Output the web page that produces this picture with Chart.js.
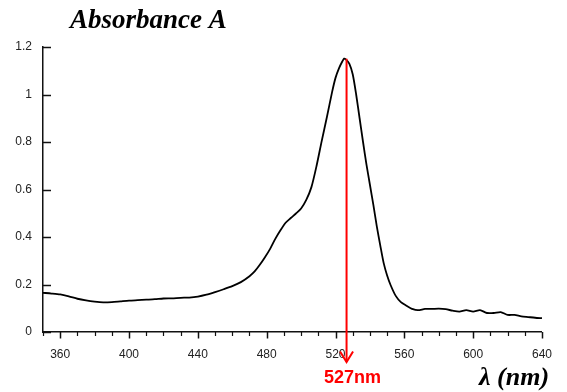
<!DOCTYPE html>
<html>
<head>
<meta charset="utf-8">
<script src="https://cdn.jsdelivr.net/npm/chart.js@4.4.1/dist/chart.umd.min.js"></script>
<style>
  html, body { margin: 0; padding: 0; background: #ffffff; }
  #wrap { position: relative; width: 567px; height: 392px; }
  canvas { display: block; }
</style>
</head>
<body>
<div id="wrap"><canvas id="c" width="567" height="392"></canvas></div>
<script>
// ---- data ----
const wavelengths = [350, 355, 360, 365, 370, 375, 380, 385, 390, 395, 400, 405, 410, 415, 420, 425, 430, 435, 440, 445,
  450, 455, 460, 465, 470, 473, 476, 479, 482, 485, 488, 491, 494, 497, 500, 503, 506, 509, 512, 515, 518, 520, 522, 524,
  525, 526, 528, 530, 532, 534, 536, 538, 540, 542, 544, 546, 548, 550, 552, 555, 558, 561, 565, 568, 572, 576, 580, 584,
  588, 592, 596, 600, 604, 608, 612, 616, 620, 624, 628, 632, 636, 640];
const absorbance = [0.165, 0.162, 0.158, 0.150, 0.140, 0.133, 0.128, 0.125, 0.126, 0.129, 0.132, 0.134, 0.136, 0.138, 0.141, 0.142, 0.144, 0.145, 0.149, 0.157,
  0.168, 0.180, 0.193, 0.210, 0.235, 0.255, 0.283, 0.315, 0.350, 0.392, 0.428, 0.460, 0.480, 0.499, 0.520, 0.556, 0.610, 0.700, 0.805, 0.905, 1.010, 1.070, 1.110, 1.140,
  1.151, 1.148, 1.130, 1.085, 1.000, 0.900, 0.800, 0.705, 0.620, 0.535, 0.445, 0.365, 0.290, 0.238, 0.198, 0.152, 0.126, 0.112, 0.096, 0.092, 0.097, 0.097, 0.098, 0.096,
  0.090, 0.086, 0.092, 0.086, 0.092, 0.080, 0.080, 0.084, 0.072, 0.072, 0.066, 0.063, 0.060, 0.058];
const xTickLabels = [360, 400, 440, 480, 520, 560, 600, 640];
const yTickLabels = ['0', '0.2', '0.4', '0.6', '0.8', '1', '1.2'];
const peakWavelength = 527;
const peakLabel = '527nm';
const titleText = 'Absorbance A';
const xAxisTitle = 'λ (nm)';

const points = wavelengths.map((w, i) => ({ x: w, y: absorbance[i] }));

const decorPlugin = {
  id: 'decor',
  afterDraw(chart) {
    const ctx = chart.ctx;
    const xs = chart.scales.x, ys = chart.scales.y;
    const area = chart.chartArea;
    ctx.save();
    // y ticks (inward)
    ctx.strokeStyle = '#111';
    ctx.lineWidth = 1.5;
    ys.ticks.forEach(t => {
      const py = Math.round(ys.getPixelForValue(t.value)) + 0.5;
      ctx.beginPath();
      ctx.moveTo(area.left, py);
      ctx.lineTo(area.left + 8, py);
      ctx.stroke();
    });
    // x ticks (outward, major/minor)
    xs.ticks.forEach(t => {
      const px = Math.round(xs.getPixelForValue(t.value)) + 0.5;
      const major = xTickLabels.includes(t.value);
      ctx.lineWidth = major ? 1.5 : 1.2;
      ctx.beginPath();
      ctx.moveTo(px, area.bottom);
      ctx.lineTo(px, area.bottom + (major ? 6.5 : 4));
      ctx.stroke();
    });
    // red marker line with arrow
    const rx = xs.getPixelForValue(peakWavelength) - 1;
    const peakVal = Math.max(...absorbance);
    const topY = ys.getPixelForValue(peakVal);
    const tipY = area.bottom + 30;
    ctx.strokeStyle = '#ff0000';
    ctx.lineWidth = 2;
    ctx.beginPath();
    ctx.moveTo(rx, topY);
    ctx.lineTo(rx, tipY);
    ctx.stroke();
    ctx.beginPath();
    ctx.moveTo(rx - 6.5, tipY - 10.5);
    ctx.lineTo(rx, tipY);
    ctx.lineTo(rx + 6.5, tipY - 10.5);
    ctx.stroke();
    // texts
    ctx.fillStyle = '#ff0000';
    ctx.font = 'bold 18px "Liberation Sans", Arial, sans-serif';
    ctx.textAlign = 'center';
    ctx.textBaseline = 'alphabetic';
    ctx.fillText(peakLabel, rx + 6, 383);
    ctx.fillStyle = '#000';
    ctx.font = 'bold italic 27px "Liberation Serif", "Times New Roman", serif';
    ctx.textAlign = 'left';
    ctx.fillText(titleText, 70, 28);
    ctx.font = 'bold italic 26px "Liberation Serif", "Times New Roman", serif';
    ctx.fillText(xAxisTitle, 479, 385);
    ctx.restore();
  }
};

new Chart(document.getElementById('c'), {
  type: 'line',
  data: {
    datasets: [{
      data: points,
      borderColor: '#000',
      borderWidth: 1.8,
      pointRadius: 0,
      tension: 0.25,
      fill: false
    }]
  },
  options: {
    responsive: false,
    animation: false,
    layout: { padding: { top: 47, right: 25, left: 0, bottom: 0 } },
    plugins: { legend: { display: false }, tooltip: { enabled: false }, title: { display: false } },
    scales: {
      x: {
        type: 'linear',
        min: 350, max: 640,
        afterFit: s => { s.height = 60; },
        grid: { display: false, drawTicks: false },
        border: { display: true, color: '#111', width: 1.5 },
        ticks: {
          stepSize: 10,
          autoSkip: false,
          maxRotation: 0,
          padding: 15,
          color: '#222',
          font: { family: '"Liberation Sans", Arial, sans-serif', size: 12 },
          callback: v => xTickLabels.includes(v) ? String(v) : ''
        }
      },
      y: {
        min: 0, max: 1.2,
        afterFit: s => { s.width = 43; },
        grid: { display: false, drawTicks: false },
        border: { display: true, color: '#111', width: 1.5 },
        ticks: {
          stepSize: 0.2,
          padding: 11,
          color: '#222',
          font: { family: '"Liberation Sans", Arial, sans-serif', size: 12 },
          callback: (v, i) => yTickLabels[i]
        }
      }
    }
  },
  plugins: [decorPlugin]
});
</script>
</body>
</html>
